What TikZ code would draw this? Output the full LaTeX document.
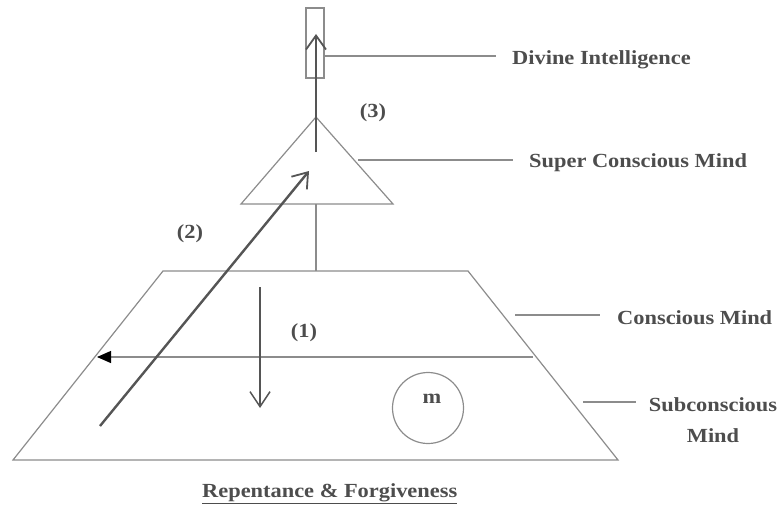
\documentclass[tikz,border=0pt]{standalone}
\usepackage{fontspec}
\setmainfont{Liberation Serif}[FakeStretch=1.12]
\usetikzlibrary{arrows.meta}
\definecolor{thin}{HTML}{8C8C8C}
\definecolor{thick}{HTML}{555555}
\definecolor{txt}{HTML}{4D4D4D}
\tikzset{
  outline/.style={draw=thin, line width=1.2pt},
  leader/.style={draw=thin, line width=1.4pt},
  flow/.style={draw=thick, line width=2.4pt, -{Straight Barb[length=14pt,width=20pt,line width=1.8pt]}},
  thinflow/.style={draw=thick, line width=1.5pt, -{Straight Barb[length=15pt,width=20pt,line width=1.5pt]}},
  lbl/.style={text=txt, font=\fontsize{20}{31}\selectfont\bfseries, inner sep=0pt}
}
\begin{document}
\begin{tikzpicture}[x=1pt,y=-1pt]
\useasboundingbox (0,0) rectangle (781,508);
% shapes
\node[outline, minimum width=18pt, minimum height=70pt, inner sep=0pt] (rect) at (315,43) {};
\coordinate (apex) at (316,117);
\coordinate (tl) at (241,204);
\coordinate (tr) at (393,204);
\draw[outline] (apex) -- (tl) -- (tr) -- cycle;
\coordinate (tbase) at (316,204);
\coordinate (ztop) at (316,271);
\draw[outline] (tbase) -- (ztop);
\coordinate (zA) at (163,271);
\coordinate (zB) at (468,271);
\coordinate (zC) at (618,460);
\coordinate (zD) at (13,460);
\draw[outline] (zA) -- (zB) -- (zC) -- (zD) -- cycle;
% middle line with filled arrowhead
\coordinate (midR) at (533,357);
\coordinate (midL) at (97,357);
\draw[outline, -{Triangle[length=14pt,width=12pt,fill=black,color=black]}] (midR) -- (midL);
% circle
\node[outline, circle, minimum size=71pt, inner sep=0pt] (circ) at (428,408) {};
\node[lbl] (m) at (432,399) {m};
% arrows
\coordinate (a1s) at (260,287);
\coordinate (a1e) at (260,408);
\draw[thinflow] (a1s) -- (a1e);
\coordinate (a2s) at (100,426);
\coordinate (a2e) at (309,171);
\draw[flow] (a2s) -- (a2e);
\coordinate (a3s) at (316,152);
\coordinate (a3e) at (316,34);
\draw[flow] (a3s) -- (a3e);
% labels
\node[lbl] (n1) at (304,333) {(1)};
\node[lbl] (n2) at (190,234) {(2)};
\node[lbl] (n3) at (373,113) {(3)};
\node[lbl, anchor=west] (di) at (512,60) {Divine Intelligence};
\node[lbl, anchor=west] (scm) at (529,163) {Super Conscious Mind};
\node[lbl, anchor=west] (cm) at (617,318) {Conscious Mind};
\node[lbl, align=center] (sub) at (713,420) {Subconscious\\Mind};
\node[lbl, anchor=west] (cap) at (202,494) {\underline{Repentance \& Forgiveness}};
% leaders
\coordinate (l1) at (325,56);
\coordinate (l1e) at (496,56);
\draw[leader] (l1) -- (l1e);
\coordinate (l2) at (358,160);
\coordinate (l2e) at (513,160);
\draw[leader] (l2) -- (l2e);
\coordinate (l3) at (515,315);
\coordinate (l3e) at (600,315);
\draw[leader] (l3) -- (l3e);
\coordinate (l4) at (583,402);
\coordinate (l4e) at (636,402);
\draw[leader] (l4) -- (l4e);
\end{tikzpicture}
\end{document}
